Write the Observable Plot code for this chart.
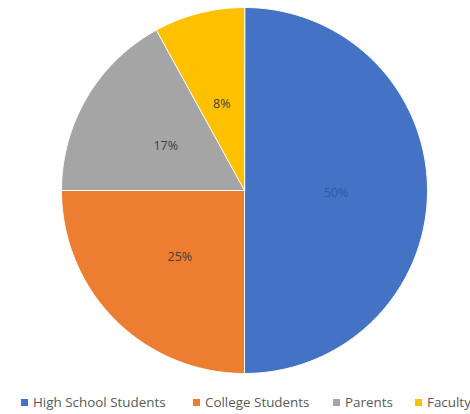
<!DOCTYPE html>
<html>
<head>
<meta charset="utf-8">
<script src="https://cdn.jsdelivr.net/npm/d3@7"></script>
<script src="https://cdn.jsdelivr.net/npm/@observablehq/plot@0.6"></script>
<style>
  body { margin: 0; background: #fff; font-family: "Open Sans", "Liberation Sans", sans-serif; overflow: hidden; }
  #legend { position: relative; width: 470px; height: 29px; overflow: hidden; font-size: 13.4px; color: #595959; white-space: nowrap; }
  #legend span.item { position: absolute; top: 8px; display: inline-flex; align-items: center; line-height: 18px; }
  #legend span.sw { display: inline-block; width: 7px; height: 7px; margin-right: 5px; }
</style>
</head>
<body>
<div id="chart"></div>
<div id="legend"></div>
<script>
const categories = ["High School Students", "College Students", "Parents", "Faculty"];
const values = [50, 25, 17, 8];
const labels = ["50%", "25%", "17%", "8%"];
const colors = ["#4472C4", "#ED7D31", "#A5A5A5", "#FFC000"];
const labelColors = ["#3558a6", "#404040", "#404040", "#404040"];
const legendLeft = [21, 193, 333, 415];

const pie = d3.pie().sort(null).value(d => d.value);
const arcs = pie(categories.map((c, i) => ({category: c, value: values[i], label: labels[i]})));

// polygon vertices in unit coords (angle 0 = top, clockwise)
const pts = [];
arcs.forEach(a => {
  pts.push({category: a.data.category, x: 0, y: 0});
  const n = Math.max(2, Math.ceil((a.endAngle - a.startAngle) / 0.01));
  for (let k = 0; k <= n; k++) {
    const t = a.startAngle + (a.endAngle - a.startAngle) * k / n;
    pts.push({category: a.data.category, x: Math.sin(t), y: Math.cos(t)});
  }
});
const labelPts = arcs.map((a, i) => {
  const m = (a.startAngle + a.endAngle) / 2;
  return {label: a.data.label, x: 0.5 * Math.sin(m), y: 0.5 * Math.cos(m), c: labelColors[i]};
});

const chart = Plot.plot({
  width: 470,
  height: 385,
  marginLeft: 61,
  marginRight: 43,
  marginTop: 7,
  marginBottom: 12,
  x: {domain: [-1, 1], axis: null},
  y: {domain: [-1, 1], axis: null},
  color: {domain: categories, range: colors},
  style: {fontFamily: "'Open Sans', sans-serif", background: "white"},
  marks: [
    Plot.line(pts, {x: "x", y: "y", z: "category", fill: "category", stroke: "white", strokeWidth: 1, curve: "linear-closed"}),
    Plot.text(labelPts, {x: "x", y: "y", text: "label", fill: d => d.c, fontSize: 12.5, dy: 2})
  ]
});
document.getElementById("chart").appendChild(chart);

const legend = document.getElementById("legend");
categories.forEach((c, i) => {
  const item = document.createElement("span");
  item.className = "item";
  item.style.left = legendLeft[i] + "px";
  const sw = document.createElement("span");
  sw.className = "sw";
  sw.style.background = colors[i];
  item.appendChild(sw);
  item.appendChild(document.createTextNode(c));
  legend.appendChild(item);
});
</script>
</body>
</html>
